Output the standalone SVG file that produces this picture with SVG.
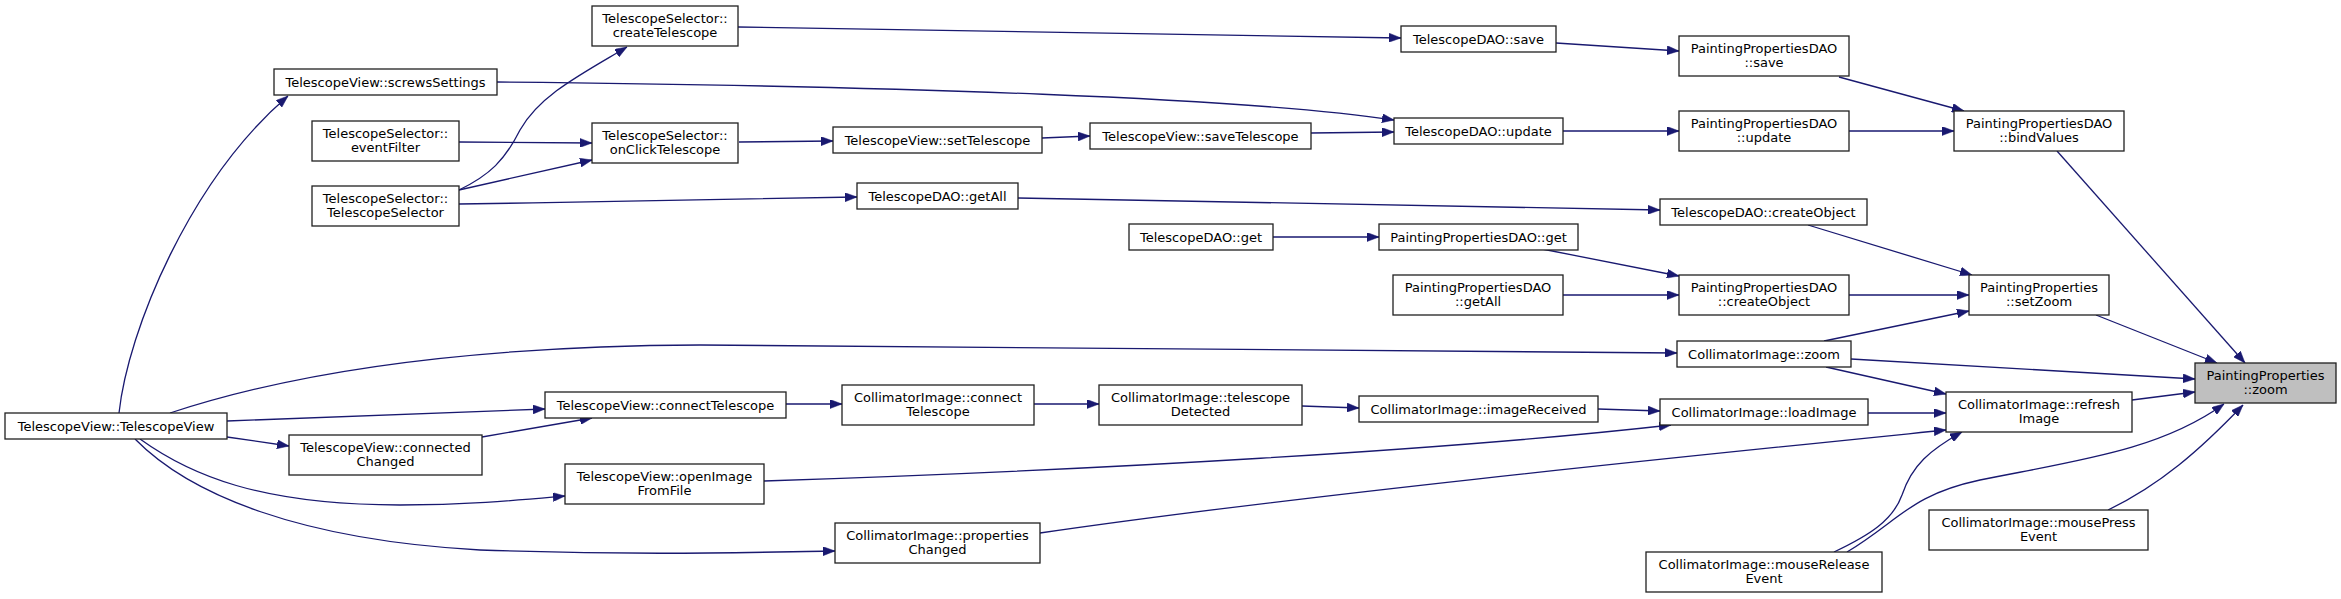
<svg xmlns="http://www.w3.org/2000/svg" width="2341" height="599" viewBox="0 0 2341 599">
<style>
.node rect{fill:#ffffff;stroke:#202020;stroke-width:1.3}
.node.root rect{fill:#bfbfbf}
.node text{font-family:"DejaVu Sans","Liberation Sans",sans-serif;font-size:13px;text-anchor:middle;fill:#000}
.edges path{fill:none;stroke:#191970;stroke-width:1.3;marker-end:url(#arr)}
</style>
<defs>
<marker id="arr" markerUnits="userSpaceOnUse" markerWidth="12" markerHeight="9" viewBox="0 0 12 9" refX="12" refY="4.5" orient="auto">
<path d="M0,0 L12,4.5 L0,9 z" fill="#191970" stroke="#191970" stroke-width="0.5"/>
</marker>
</defs>
<rect width="2341" height="599" fill="#ffffff"/>
<g class="edges" id="edges">
<path d="M119,413 C128,330 190,180 288,96"/>
<path d="M170,413 C300,370 470,346 700,345 L1677,353"/>
<path d="M227,421 C350,416 450,412 545,409"/>
<path d="M227,437 L289,446"/>
<path d="M140,439 C190,475 260,505 400,505 C470,505 520,500 565,496"/>
<path d="M135,439 C190,495 300,540 480,550 C650,556 760,552 835,551"/>
<path d="M482,437 L592,418"/>
<path d="M497,82 C900,86 1250,98 1394,120"/>
<path d="M459,142 L592,143"/>
<path d="M459,190 C490,175 505,160 520,130 C540,95 580,75 627,47"/>
<path d="M459,190 L592,160"/>
<path d="M459,204 C600,202 750,199 857,197"/>
<path d="M738,27 C1000,30 1250,34 1401,38"/>
<path d="M739,142 L833,141"/>
<path d="M1042,138 L1090,136"/>
<path d="M1311,133 L1394,132"/>
<path d="M1556,43 L1679,51"/>
<path d="M1563,131 L1679,131"/>
<path d="M1839,77 L1964,111"/>
<path d="M1849,131 L1954,131"/>
<path d="M2057,151 L2245,363"/>
<path d="M1018,198 C1300,202 1500,207 1660,210"/>
<path d="M1808,225 L1972,275"/>
<path d="M1273,237 L1379,237"/>
<path d="M1542,249 L1679,276"/>
<path d="M1563,295 L1679,295"/>
<path d="M1849,295 L1969,295"/>
<path d="M2096,315 L2217,363"/>
<path d="M1824,341 L1969,311"/>
<path d="M1851,359 L2195,379"/>
<path d="M1826,367 L1946,394"/>
<path d="M786,404 L842,404"/>
<path d="M1034,404 L1099,404"/>
<path d="M1302,406 L1359,408"/>
<path d="M1598,409 L1660,411"/>
<path d="M1868,413 L1946,413"/>
<path d="M764,481 C1100,470 1450,450 1671,425"/>
<path d="M1040,533 C1300,495 1700,455 1946,430"/>
<path d="M2132,400 L2195,392"/>
<path d="M1834,552 C1870,535 1893,520 1902,495 C1912,465 1930,450 1962,432"/>
<path d="M1847,552 C1900,520 1910,495 1980,480 C2080,460 2160,450 2224,404"/>
<path d="M2108,510 C2160,485 2200,450 2243,405"/>
</g>
<g class="node root" id="n_ppzoom"><rect x="2195" y="363" width="141" height="40"/><text x="2265.5" y="379.5">PaintingProperties</text><text x="2265.5" y="394">::zoom</text></g>
<g class="node" id="n_bind"><rect x="1954" y="111" width="170" height="40"/><text x="2039" y="127.5">PaintingPropertiesDAO</text><text x="2039" y="142">::bindValues</text></g>
<g class="node" id="n_setzoom"><rect x="1969" y="275" width="140" height="40"/><text x="2039" y="291.5">PaintingProperties</text><text x="2039" y="306">::setZoom</text></g>
<g class="node" id="n_refresh"><rect x="1946" y="392" width="186" height="40"/><text x="2039" y="408.5">CollimatorImage::refresh</text><text x="2039" y="423">Image</text></g>
<g class="node" id="n_press"><rect x="1929" y="510" width="219" height="40"/><text x="2038.5" y="526.5">CollimatorImage::mousePress</text><text x="2038.5" y="541">Event</text></g>
<g class="node" id="n_ppsave"><rect x="1679" y="36" width="170" height="40"/><text x="1764" y="52.5">PaintingPropertiesDAO</text><text x="1764" y="67">::save</text></g>
<g class="node" id="n_ppupdate"><rect x="1679" y="111" width="170" height="40"/><text x="1764" y="127.5">PaintingPropertiesDAO</text><text x="1764" y="142">::update</text></g>
<g class="node" id="n_tcreate"><rect x="1660" y="199" width="207" height="26"/><text x="1763.5" y="216.5">TelescopeDAO::createObject</text></g>
<g class="node" id="n_ppcreate"><rect x="1679" y="275" width="170" height="40"/><text x="1764" y="291.5">PaintingPropertiesDAO</text><text x="1764" y="306">::createObject</text></g>
<g class="node" id="n_cizoom"><rect x="1677" y="341" width="174" height="26"/><text x="1764" y="358.5">CollimatorImage::zoom</text></g>
<g class="node" id="n_load"><rect x="1660" y="399" width="208" height="26"/><text x="1764" y="416.5">CollimatorImage::loadImage</text></g>
<g class="node" id="n_release"><rect x="1646" y="552" width="236" height="40"/><text x="1764" y="568.5">CollimatorImage::mouseRelease</text><text x="1764" y="583">Event</text></g>
<g class="node" id="n_tsave"><rect x="1401" y="26" width="155" height="26"/><text x="1478.5" y="43.5">TelescopeDAO::save</text></g>
<g class="node" id="n_tupdate"><rect x="1394" y="118" width="169" height="26"/><text x="1478.5" y="135.5">TelescopeDAO::update</text></g>
<g class="node" id="n_ppget"><rect x="1379" y="224" width="199" height="26"/><text x="1478.5" y="241.5">PaintingPropertiesDAO::get</text></g>
<g class="node" id="n_ppgetall"><rect x="1393" y="275" width="170" height="40"/><text x="1478" y="291.5">PaintingPropertiesDAO</text><text x="1478" y="306">::getAll</text></g>
<g class="node" id="n_imgrec"><rect x="1359" y="396" width="239" height="26"/><text x="1478.5" y="413.5">CollimatorImage::imageReceived</text></g>
<g class="node" id="n_savetel"><rect x="1090" y="123" width="221" height="26"/><text x="1200.5" y="140.5">TelescopeView::saveTelescope</text></g>
<g class="node" id="n_tget"><rect x="1129" y="224" width="144" height="26"/><text x="1201" y="241.5">TelescopeDAO::get</text></g>
<g class="node" id="n_teldet"><rect x="1099" y="385" width="203" height="40"/><text x="1200.5" y="401.5">CollimatorImage::telescope</text><text x="1200.5" y="416">Detected</text></g>
<g class="node" id="n_settel"><rect x="833" y="127" width="209" height="26"/><text x="937.5" y="144.5">TelescopeView::setTelescope</text></g>
<g class="node" id="n_tgetall"><rect x="857" y="183" width="161" height="26"/><text x="937.5" y="200.5">TelescopeDAO::getAll</text></g>
<g class="node" id="n_ciconn"><rect x="842" y="385" width="192" height="40"/><text x="938" y="401.5">CollimatorImage::connect</text><text x="938" y="416">Telescope</text></g>
<g class="node" id="n_propch"><rect x="835" y="523" width="205" height="40"/><text x="937.5" y="539.5">CollimatorImage::properties</text><text x="937.5" y="554">Changed</text></g>
<g class="node" id="n_create"><rect x="592" y="6" width="146" height="40"/><text x="665" y="22.5">TelescopeSelector::</text><text x="665" y="37">createTelescope</text></g>
<g class="node" id="n_onclick"><rect x="592" y="123" width="146" height="40"/><text x="665" y="139.5">TelescopeSelector::</text><text x="665" y="154">onClickTelescope</text></g>
<g class="node" id="n_tvconn"><rect x="545" y="392" width="241" height="26"/><text x="665.5" y="409.5">TelescopeView::connectTelescope</text></g>
<g class="node" id="n_open"><rect x="565" y="464" width="199" height="40"/><text x="664.5" y="480.5">TelescopeView::openImage</text><text x="664.5" y="495">FromFile</text></g>
<g class="node" id="n_screws"><rect x="274" y="69" width="223" height="26"/><text x="385.5" y="86.5">TelescopeView::screwsSettings</text></g>
<g class="node" id="n_filter"><rect x="312" y="121" width="147" height="40"/><text x="385.5" y="137.5">TelescopeSelector::</text><text x="385.5" y="152">eventFilter</text></g>
<g class="node" id="n_tsel"><rect x="312" y="186" width="147" height="40"/><text x="385.5" y="202.5">TelescopeSelector::</text><text x="385.5" y="217">TelescopeSelector</text></g>
<g class="node" id="n_conch"><rect x="289" y="435" width="193" height="40"/><text x="385.5" y="451.5">TelescopeView::connected</text><text x="385.5" y="466">Changed</text></g>
<g class="node" id="n_tv"><rect x="5" y="413" width="222" height="26"/><text x="116" y="430.5">TelescopeView::TelescopeView</text></g>
</svg>
